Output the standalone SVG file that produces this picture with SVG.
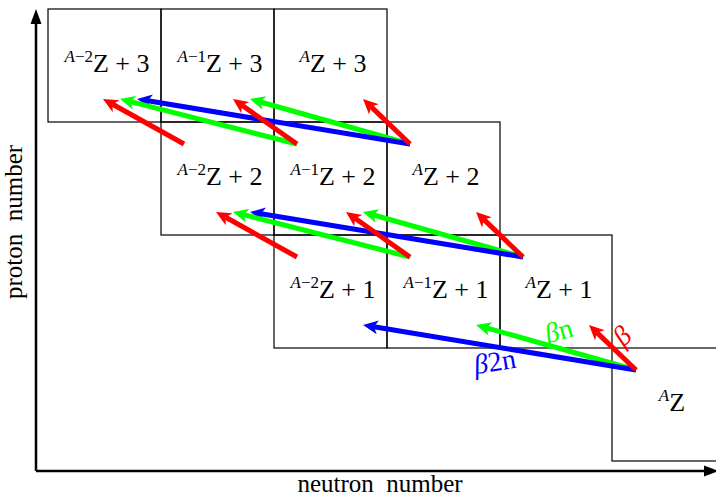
<svg xmlns="http://www.w3.org/2000/svg" width="716" height="497" viewBox="0 0 716 497">
<style>
.cell{fill:none;stroke:#000;stroke-width:1.2}
.lbl{font-family:"Liberation Serif","Times New Roman",serif;font-size:26px;fill:#000;text-anchor:middle}
.sup{font-size:17px}
.it{font-style:italic}
.ax{stroke:#000;stroke-width:2.5;fill:none}
.axl{font-family:"Liberation Serif","Times New Roman",serif;font-size:25px;fill:#000;text-anchor:middle}
.r{stroke:#ff0000;stroke-width:5;fill:none;marker-end:url(#hr)}
.g{stroke:#00ff00;stroke-width:5;fill:none;marker-end:url(#hg)}
.b{stroke:#0000ff;stroke-width:5;fill:none;marker-end:url(#hb)}
.dl{font-family:"Liberation Serif","Times New Roman",serif;font-size:28px;text-anchor:middle}
</style>
<defs>
<marker id="hr" markerUnits="userSpaceOnUse" markerWidth="16" markerHeight="16" viewBox="0 -8 16 16" refX="4" refY="0" orient="auto"><path d="M0,-7 L15,0 L0,7 L4,0 Z" fill="#ff0000"/></marker>
<marker id="hg" markerUnits="userSpaceOnUse" markerWidth="16" markerHeight="16" viewBox="0 -8 16 16" refX="4" refY="0" orient="auto"><path d="M0,-7 L15,0 L0,7 L4,0 Z" fill="#00ff00"/></marker>
<marker id="hb" markerUnits="userSpaceOnUse" markerWidth="16" markerHeight="16" viewBox="0 -8 16 16" refX="4" refY="0" orient="auto"><path d="M0,-7 L15,0 L0,7 L4,0 Z" fill="#0000ff"/></marker>
<marker id="hk" markerUnits="userSpaceOnUse" markerWidth="16" markerHeight="16" viewBox="0 -8 16 16" refX="2" refY="0" orient="auto"><path d="M0,-5.5 L15,0 L0,5.5 Z" fill="#000"/></marker>
</defs>

<g id="axes">
<path class="ax" d="M36,471 L36,22" marker-end="url(#hk)"/>
<path class="ax" d="M36,471 L706,471" marker-end="url(#hk)"/>
<text class="axl" x="380" y="492">neutron&#160; number</text>
<text class="axl" transform="translate(22,222) rotate(-90)" x="0" y="0">proton&#160; number</text>
</g>

<g id="n-Am2Z3"><rect class="cell" x="48" y="9" width="113" height="113"/><text class="lbl" x="107" y="72"><tspan class="sup it" dy="-10">A</tspan><tspan class="sup">−2</tspan><tspan dy="10">Z + 3</tspan></text></g>
<g id="n-Am1Z3"><rect class="cell" x="161" y="9" width="113" height="113"/><text class="lbl" x="220" y="72"><tspan class="sup it" dy="-10">A</tspan><tspan class="sup">−1</tspan><tspan dy="10">Z + 3</tspan></text></g>
<g id="n-AZ3"><rect class="cell" x="274" y="9" width="113" height="113"/><text class="lbl" x="333" y="72"><tspan class="sup it" dy="-10">A</tspan><tspan dy="10">Z + 3</tspan></text></g>

<g id="n-Am2Z2"><rect class="cell" x="161" y="122" width="113" height="113"/><text class="lbl" x="220" y="185"><tspan class="sup it" dy="-10">A</tspan><tspan class="sup">−2</tspan><tspan dy="10">Z + 2</tspan></text></g>
<g id="n-Am1Z2"><rect class="cell" x="274" y="122" width="113" height="113"/><text class="lbl" x="333" y="185"><tspan class="sup it" dy="-10">A</tspan><tspan class="sup">−1</tspan><tspan dy="10">Z + 2</tspan></text></g>
<g id="n-AZ2"><rect class="cell" x="387" y="122" width="113" height="113"/><text class="lbl" x="446" y="185"><tspan class="sup it" dy="-10">A</tspan><tspan dy="10">Z + 2</tspan></text></g>

<g id="n-Am2Z1"><rect class="cell" x="274" y="235" width="113" height="113"/><text class="lbl" x="333" y="298"><tspan class="sup it" dy="-10">A</tspan><tspan class="sup">−2</tspan><tspan dy="10">Z + 1</tspan></text></g>
<g id="n-Am1Z1"><rect class="cell" x="387" y="235" width="113" height="113"/><text class="lbl" x="446" y="298"><tspan class="sup it" dy="-10">A</tspan><tspan class="sup">−1</tspan><tspan dy="10">Z + 1</tspan></text></g>
<g id="n-AZ1"><rect class="cell" x="500" y="235" width="112" height="113"/><text class="lbl" x="559" y="298"><tspan class="sup it" dy="-10">A</tspan><tspan dy="10">Z + 1</tspan></text></g>

<g id="n-AZ"><rect class="cell" x="612" y="348" width="113" height="113"/><text class="lbl" x="672" y="411"><tspan class="sup it" dy="-10">A</tspan><tspan dy="10">Z</tspan></text></g>

<g id="connectors">
<path class="g" d="M410,144 L260.6,102"/>
<path class="b" d="M410,144 L147.9,100.8"/>
<path class="r" d="M410,144 L371,106.6"/>
<path class="g" d="M297,144 L130.7,101.7"/>
<path class="r" d="M297,144 L242,105.3"/>
<path class="r" d="M184,144 L112.6,104.3"/>
<path class="g" d="M523,257 L373.6,215"/>
<path class="b" d="M523,257 L260.9,213.8"/>
<path class="r" d="M523,257 L484,219.6"/>
<path class="g" d="M410,257 L243.7,214.7"/>
<path class="r" d="M410,257 L355,218.3"/>
<path class="r" d="M297,257 L225.6,217.3"/>
<path class="g" d="M636,370 L486.6,327.9"/>
<path class="b" d="M636,370 L373.9,326.8"/>
<path class="r" d="M636,370 L597,332.6"/>
<text class="dl" fill="#00ff00" transform="translate(559,332) rotate(-16)" x="0" y="8"><tspan class="it">β</tspan>n</text>
<text class="dl" fill="#ff0000" transform="translate(623,337) rotate(-44)" x="0" y="8"><tspan class="it">β</tspan></text>
<text class="dl" fill="#0000ff" transform="translate(495,363) rotate(-9.4)" x="0" y="8"><tspan class="it">β</tspan>2n</text>
</g>
</svg>
